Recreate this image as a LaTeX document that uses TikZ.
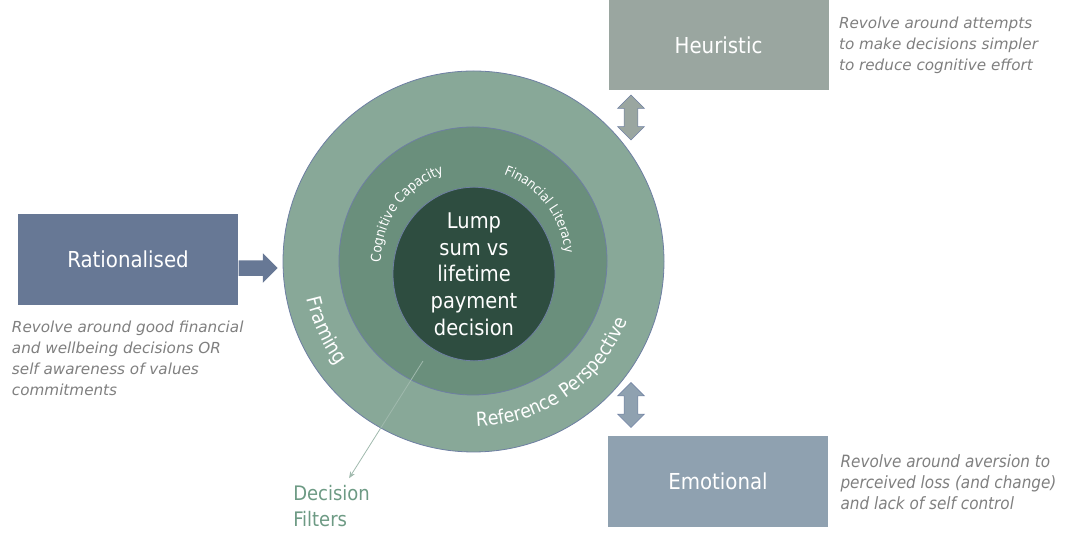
\documentclass[tikz,border=0pt]{standalone}
\usepackage{fontspec}
\setmainfont{DejaVu Sans}
\newfontfamily\condfont{DejaVu Sans Condensed}
\usetikzlibrary{positioning, shapes.geometric, shapes.arrows, decorations.text, arrows.meta}
\definecolor{ringout}{HTML}{88A898}
\definecolor{ringmid}{HTML}{6A8F7C}
\definecolor{ringin}{HTML}{2E4D40}
\definecolor{rimline}{HTML}{6E7FA3}
\definecolor{ratbox}{HTML}{677895}
\definecolor{heubox}{HTML}{9AA6A0}
\definecolor{emobox}{HTML}{8FA1B0}
\definecolor{desctext}{HTML}{7F7F7F}
\definecolor{filtgreen}{HTML}{6D9A84}

\begin{document}
\begin{tikzpicture}[x=0.75pt,y=0.75pt,
        ring/.style={circle, draw=rimline, line width=0.6pt, inner sep=0pt},
        kind/.style={rectangle, minimum width=165pt, minimum height=68pt, inner sep=0pt,
                text=white, font=\condfont\fontsize{16.5}{20}\selectfont},
        desc/.style={align=left, inner sep=0pt, text=desctext, font=\itshape\fontsize{11.4}{15.75}\selectfont},
        twoway/.style={double arrow, shape border rotate=90, draw=rimline, line width=0.5pt,
                minimum height=33.75pt, double arrow head extend=4.9pt, inner sep=4.9pt},
        curved/.style={decorate, decoration={text along path, text align=center, text={#1}}}]
        \useasboundingbox (0,0) rectangle (1075,548);
        \node[ring, fill=ringout, minimum size=285.75pt] (outer) at (473.5,286.5) {};
        \node[ring, fill=ringmid, minimum size=201pt] (mid) at (473,287) {};
        \node[ellipse, draw=rimline, line width=0.6pt, fill=ringin, minimum width=121.5pt, minimum height=129pt,
                inner sep=0pt, text=white, align=center, font=\condfont\fontsize{16.2}{20}\selectfont]
                (core) at (474,274) {Lump\\sum vs\\lifetime\\payment\\decision};
        \path[curved={|\condfont\fontsize{10.3}{13}\selectfont\color{white}|Cognitive Capacity}]
                (mid.center) ++(194.6:92) arc[start angle=194.6, end angle=94.6, radius=92];
        \path[curved={|\condfont\fontsize{10}{13}\selectfont\color{white}|Financial Literacy}]
                (mid.center) ++(87.6:92) arc[start angle=87.6, end angle=-12.4, radius=92];
        \path[curved={|\condfont\fontsize{15}{18}\selectfont\color{white}|Framing}]
                (outer.center) ++(165:171) arc[start angle=165, end angle=245, radius=171];
        \path[curved={|\condfont\fontsize{14.5}{17}\selectfont\color{white}|Reference Perspective}]
                (outer.center) ++(255:165) arc[start angle=255, end angle=355, radius=165];

        \node[kind, fill=ratbox] (rat) at (128,288.5) {Rationalised};
        \node[kind, fill=heubox] (heu) at (718.5,503) {Heuristic};
        \node[kind, fill=emobox] (emo) at (718,66.5) {Emotional};
        \node[single arrow, fill=ratbox, minimum height=29.25pt, single arrow head extend=5.25pt,
                inner sep=5.6pt, anchor=tail] (push) at ([yshift=-6.4pt]rat.east) {};
        \node[twoway, fill=heubox] (up) at (631,430.5) {};
        \node[twoway, fill=emobox] (down) at (631,143) {};

        \node[desc, below right=12.75pt and 7.5pt of heu.north east] (heutxt)
                {Revolve around attempts\\to make decisions simpler\\to reduce cognitive effort};
        \node[desc, below right=12pt and -4.5pt of rat.south west] (rattxt)
                {Revolve around good financial\\and wellbeing decisions OR\\self awareness of values\\commitments};
        \node[desc, font=\condfont\itshape\fontsize{12.7}{15.75}\selectfont, below right=13.5pt and 9pt of emo.north east] (emotxt)
                {Revolve around aversion to\\perceived loss (and change)\\and lack of self control};

        \node[align=left, inner sep=0pt, text=filtgreen, font=\condfont\fontsize{15}{19.5}\selectfont,
                anchor=north west] (filt) at (293,63) {Decision\\Filters};
        \coordinate (lead) at (423,187);
        \draw[draw=ringout!80!white, line width=0.6pt, shorten >=6pt, -{Stealth[length=5pt,width=4pt]}]
                (lead) -- (filt);
\end{tikzpicture}
\end{document}
